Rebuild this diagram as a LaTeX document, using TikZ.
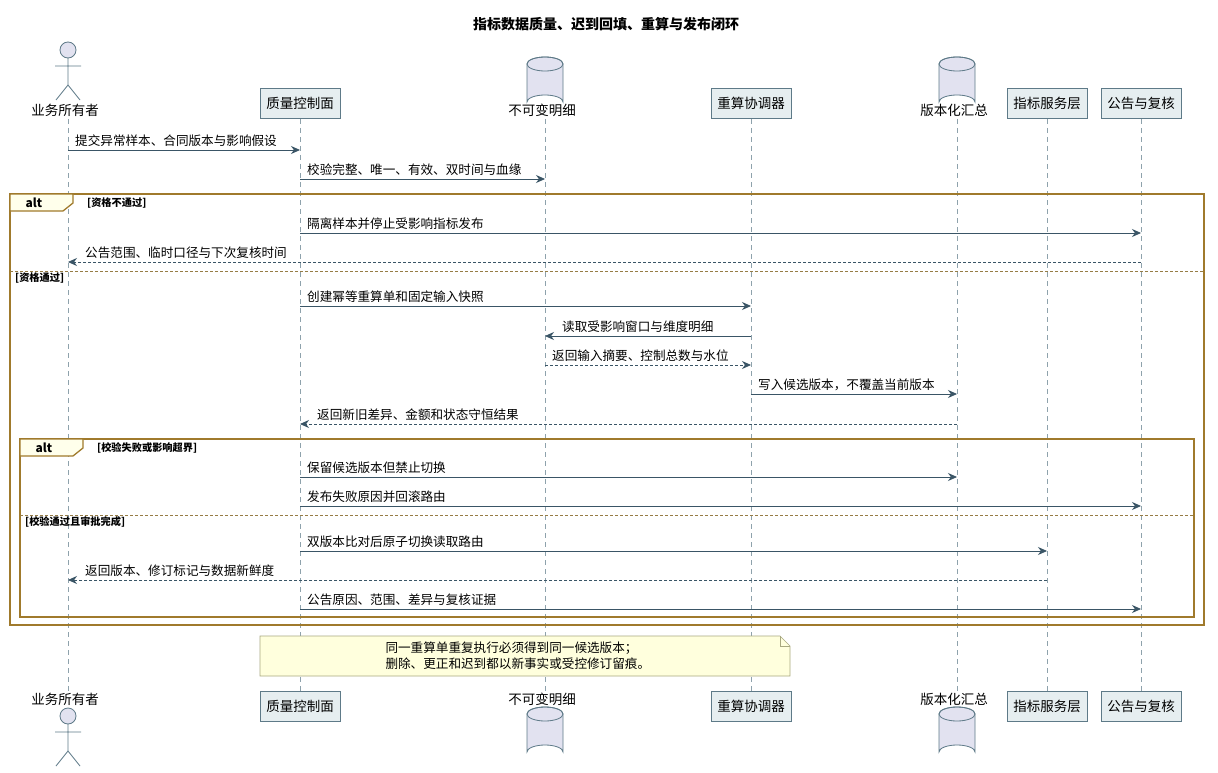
\documentclass[tikz,border=0pt]{standalone}
\usepackage{fontspec}
\setmainfont{Noto Sans CJK SC}
\usetikzlibrary{arrows.meta}
\definecolor{pfill}{HTML}{E6EEF0}
\definecolor{pline}{HTML}{5E7A88}
\definecolor{cfill}{HTML}{E2E2F0}
\definecolor{aline}{HTML}{3A5566}
\definecolor{fline}{HTML}{A07A2C}
\definecolor{nfill}{HTML}{FFFFDD}
\definecolor{nline}{HTML}{A8A880}
\tikzset{
 part/.style={draw=pline,fill=pfill,minimum height=30pt,inner xsep=6pt,font=\fontsize{13.5}{16}\selectfont},
 plab/.style={font=\fontsize{13.5}{16}\selectfont},
 life/.style={draw=pline!70,dash pattern=on 5pt off 4pt,line width=0.5pt},
 msgl/.style={font=\fontsize{12.6}{15}\selectfont,anchor=south west,inner sep=1pt},
 arr/.style={draw=aline,line width=0.8pt,-{Stealth[length=9pt,width=8pt]}},
 ret/.style={arr,dash pattern=on 3pt off 2pt},
 frame/.style={draw=fline,line width=1.3pt},
 sep/.style={draw=fline!70!gray,dash pattern=on 3pt off 2pt,line width=0.6pt},
 cond/.style={font=\bfseries\fontsize{10.2}{12}\selectfont,anchor=west,inner sep=1pt},
}
\newcommand{\myactor}[3]{% x, headY, name
 \draw[pline,fill=cfill,line width=0.8pt] (#1,#2) circle (8);
 \draw[pline,line width=0.8pt] (#1,#2+8) -- (#1,#2+35) (#1-13,#2+16) -- (#1+13,#2+16)
   (#1-12,#2+50) -- (#1,#2+35) -- (#1+12,#2+50);
 \coordinate (#3) at (#1,#2);}
\newcommand{\mycyl}[3]{% x, topY, name
 \draw[pline,fill=cfill,line width=0.8pt] (#1-18,#2) -- (#1-18,#2+38) arc[start angle=180,end angle=360,x radius=18,y radius=7] -- (#1+18,#2) arc[start angle=0,end angle=-180,x radius=18,y radius=7] -- cycle;
 \draw[pline,line width=0.8pt] (#1,#2) ellipse[x radius=18,y radius=7];
 \coordinate (#3) at (#1,#2);}
\newcommand{\msg}[6]{% name, x1, x2, y, text, style
 \coordinate (#1s) at (#2,#4); \coordinate (#1e) at (#3,#4);
 \draw[#6] (#1s) -- (#1e);
 \ifdim #2pt<#3pt \node[msgl] at (#2+6,#4-2) {#5};\else\node[msgl] at (#3+16,#4-2) {#5};\fi}
\begin{document}
\begin{tikzpicture}[x=1pt,y=-1pt]
\useasboundingbox[fill=white] (0,0) rectangle (1218,773);
\node[font=\bfseries\fontsize{14}{16}\selectfont] (title) at (606,24) {指标数据质量、迟到回填、重算与发布闭环};
% lifelines
\foreach \x/\n in {68/A,300/B,545/C,751/D,957/E,1047/F,1141/G}{
 \coordinate (\n t) at (\x,119); \coordinate (\n b) at (\x,691);
 \draw[life] (\n t) -- (\n b);}
% top participants
\myactor{68}{50}{actT}
\node[plab] (lA1) at (65,110) {业务所有者};
\node[part] (pB1) at (300,103) {质量控制面};
\mycyl{545}{64}{cylT}
\node[plab] (lC1) at (542,110) {不可变明细};
\node[part] (pD1) at (751,103) {重算协调器};
\mycyl{957}{64}{cylT2}
\node[plab] (lE1) at (954,110) {版本化汇总};
\node[part] (pF1) at (1047,103) {指标服务层};
\node[part] (pG1) at (1141,103) {公告与复核};
% bottom
\node[plab] (lA2) at (65,699) {业务所有者};
\myactor{68}{716}{actB}
\node[part] (pB2) at (300,706) {质量控制面};
\node[plab] (lC2) at (542,699) {不可变明细};
\mycyl{545}{714}{cylB}
\node[part] (pD2) at (751,706) {重算协调器};
\node[plab] (lE2) at (954,699) {版本化汇总};
\mycyl{957}{714}{cylB2}
\node[part] (pF2) at (1047,706) {指标服务层};
\node[part] (pG2) at (1141,706) {公告与复核};
% messages
\msg{m1}{68}{300}{150}{提交异常样本、合同版本与影响假设}{arr}
\msg{m2}{300}{545}{179}{校验完整、唯一、有效、双时间与血缘}{arr}
% outer alt
\draw[frame] (10,194) rectangle (1204,625);
\draw[frame,fill=nfill!60] (10,194) -- (73,194) -- (73,203) -- (63,211) -- (10,211) -- cycle;
\node[font=\bfseries\fontsize{12}{14}\selectfont] (alt1) at (34,203) {alt};
\node[cond] (c1) at (86,203) {[资格不通过]};
\msg{m3}{300}{1141}{233}{隔离样本并停止受影响指标发布}{arr}
\msg{m4}{1141}{68}{262}{公告范围、临时口径与下次复核时间}{ret}
\draw[sep] (10,271) -- (1204,271);
\node[cond] (c2) at (14,278) {[资格通过]};
\msg{m5}{300}{751}{306}{创建幂等重算单和固定输入快照}{arr}
\msg{m6}{751}{545}{336}{读取受影响窗口与维度明细}{arr}
\msg{m7}{545}{751}{365}{返回输入摘要、控制总数与水位}{ret}
\msg{m8}{751}{957}{394}{写入候选版本，不覆盖当前版本}{arr}
\msg{m9}{957}{300}{424}{返回新旧差异、金额和状态守恒结果}{ret}
% inner alt
\draw[frame] (20,439) rectangle (1194,617);
\draw[frame,fill=nfill!60] (20,439) -- (83,439) -- (83,448) -- (73,456) -- (20,456) -- cycle;
\node[font=\bfseries\fontsize{12}{14}\selectfont] (alt2) at (44,448) {alt};
\node[cond] (c3) at (96,448) {[校验失败或影响超界]};
\msg{m10}{300}{957}{477}{保留候选版本但禁止切换}{arr}
\msg{m11}{300}{1141}{506}{发布失败原因并回滚路由}{arr}
\draw[sep] (20,515) -- (1194,515);
\node[cond] (c4) at (24,522) {[校验通过且审批完成]};
\msg{m12}{300}{1047}{551}{双版本比对后原子切换读取路由}{arr}
\msg{m13}{1047}{68}{580}{返回版本、修订标记与数据新鲜度}{ret}
\msg{m14}{300}{1141}{609}{公告原因、范围、差异与复核证据}{arr}
% note
\draw[nline,fill=nfill,line width=0.7pt] (260,636) -- (780,636) -- (790,646) -- (790,676) -- (260,676) -- cycle;
\draw[nline,line width=0.7pt] (780,636) -- (780,646) -- (790,646);
\node[font=\fontsize{12.6}{16}\selectfont,align=left,anchor=west] (note) at (382,656) {同一重算单重复执行必须得到同一候选版本；\\删除、更正和迟到都以新事实或受控修订留痕。};
\end{tikzpicture}
\end{document}
